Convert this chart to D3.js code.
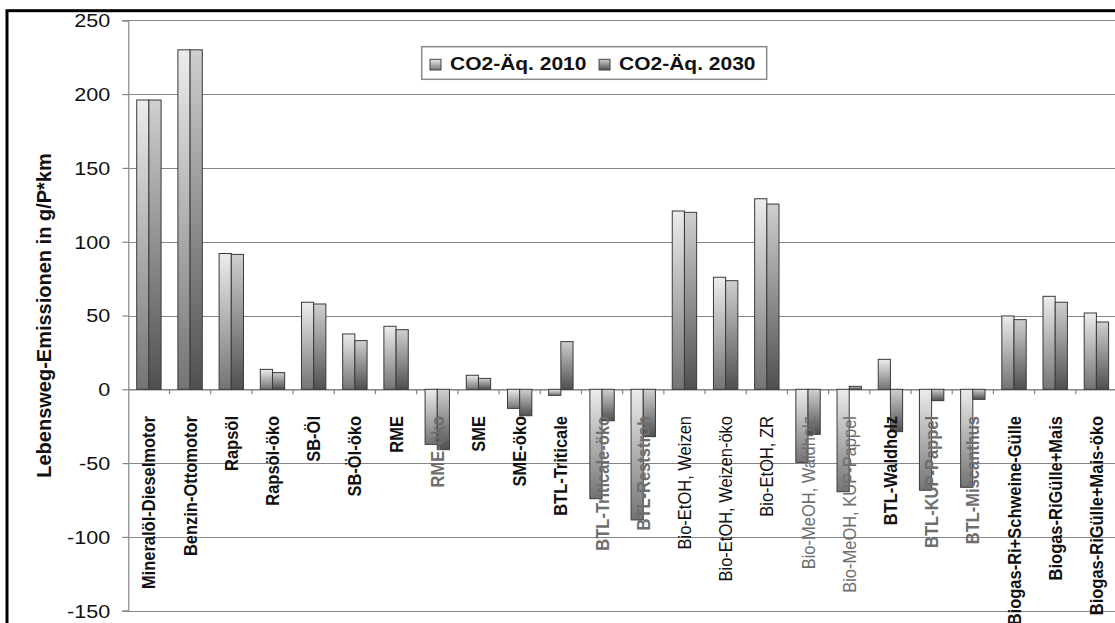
<!DOCTYPE html>
<html>
<head>
<meta charset="utf-8">
<script src="https://cdn.jsdelivr.net/npm/d3@7"></script>
<style>
  html, body { margin: 0; padding: 0; background: #fff; }
  svg { display: block; font-family: "Liberation Sans", Arial, sans-serif; }
</style>
</head>
<body>
<svg id="chart" width="1115" height="623"></svg>
<script>
// Life-cycle greenhouse gas emissions per passenger-km, 2010 vs 2030
const categories = [
  "Mineralöl-Dieselmotor", "Benzin-Ottomotor", "Rapsöl", "Rapsöl-öko", "SB-Öl", "SB-Öl-öko",
  "RME", "RME-öko", "SME", "SME-öko", "BTL-Triticale", "BTL-Triticale-öko", "BTL-Reststroh",
  "Bio-EtOH, Weizen", "Bio-EtOH, Weizen-öko", "Bio-EtOH, ZR", "Bio-MeOH, Waldholz",
  "Bio-MeOH, KUP-Pappel", "BTL-Waldholz", "BTL-KUP-Pappel", "BTL-Miscanthus",
  "Biogas-Ri+Schweine-Gülle", "Biogas-RiGülle+Mais", "Biogas-RiGülle+Mais-öko"
];
const co2eq2010 = [196, 230, 92, 13.5, 59, 37.5, 42.7, -37.3, 9.5, -12.9, -4.1, -74.1, -88.5,
                   120.8, 75.9, 129.1, -49.5, -69.4, 20.3, -68.4, -66.4, 49.7, 63, 51.7];
const co2eq2030 = [196, 230, 91.4, 11.3, 57.8, 33, 40.4, -40.9, 7.4, -17.9, 32.3, -21.3, -32.1,
                   119.9, 73.6, 125.5, -30.5, 2, -28.7, -7.7, -6.8, 47.2, 59, 45.6];
const seriesNames = ["CO2-Äq. 2010", "CO2-Äq. 2030"];
const yTicks = [-150, -100, -50, 0, 50, 100, 150, 200, 250];
const yTitle = "Lebensweg-Emissionen in g/P*km";

const svg = d3.select("#chart");
const W = 1115, H = 623;
const plot = { left: 128.3, right: 1117, top: 20.3, bottom: 610.7 };
const textStretch = 1.2;   // horizontal glyph widening of the chart text

const x = d3.scaleBand().domain(categories).range([plot.left, plot.right]).padding(0);
const bw = x.bandwidth();
const xs = d3.scaleBand().domain(seriesNames).range([bw * 0.204, bw * 0.796]).padding(0);
const y = d3.scaleLinear().domain([-150, 250]).range([plot.bottom, plot.top]);

// gradients for the two series
const defs = svg.append("defs");
const grads = [
  { id: "g2010", top: "#ececec", bottom: "#747474" },
  { id: "g2030", top: "#cfcfcf", bottom: "#505050" }
];
grads.forEach(g => {
  const lg = defs.append("linearGradient").attr("id", g.id)
    .attr("x1", 0).attr("y1", 0).attr("x2", 0).attr("y2", 1);
  lg.append("stop").attr("offset", "0%").attr("stop-color", g.top);
  lg.append("stop").attr("offset", "100%").attr("stop-color", g.bottom);
});

svg.append("rect").attr("width", W).attr("height", H).attr("fill", "#fff");

// gridlines
svg.append("g").selectAll("line").data(yTicks).join("line")
  .attr("x1", plot.left).attr("x2", W + 20)
  .attr("y1", d => Math.round(y(d)) + 0.5).attr("y2", d => Math.round(y(d)) + 0.5)
  .attr("stroke", "#858585").attr("stroke-width", 1.2);

// y axis
const yAxis = svg.append("g")
  .attr("transform", `translate(${plot.left},0)`)
  .call(d3.axisLeft(y).tickValues(yTicks).tickSize(6).tickPadding(0).tickFormat(d => String(d)));
yAxis.select(".domain").attr("stroke", "#858585").attr("stroke-width", 1.2);
yAxis.selectAll(".tick line").attr("stroke", "#858585").attr("stroke-width", 1.2);
yAxis.selectAll(".tick text")
  .attr("x", 0).attr("dy", "0.35em")
  .attr("transform", `translate(-18,0) scale(${textStretch},1)`)
  .attr("font-size", 18).attr("fill", "#111").attr("text-anchor", "end")
  .attr("font-family", '"Liberation Sans", Arial, sans-serif');

// category axis along zero with boundary ticks
const y0 = y(0);
const xAxis = svg.append("g").attr("transform", `translate(0,${y0})`)
  .call(d3.axisBottom(x).tickSize(0).tickFormat(""));
xAxis.select(".domain").attr("stroke", "#858585").attr("stroke-width", 1.2);
svg.append("g").selectAll("line").data(categories.slice(1)).join("line")
  .attr("x1", d => x(d)).attr("x2", d => x(d))
  .attr("y1", y0).attr("y2", y0 + 5)
  .attr("stroke", "#858585").attr("stroke-width", 1.2);

// bars
const rows = categories.map((c, i) => ({ c, v: [co2eq2010[i], co2eq2030[i]] }));
const groups = svg.append("g").selectAll("g").data(rows).join("g")
  .attr("transform", d => `translate(${x(d.c)},0)`);
groups.selectAll("rect").data(d => d.v.map((v, k) => ({ s: seriesNames[k], v, k }))).join("rect")
  .attr("x", d => xs(d.s))
  .attr("width", xs.bandwidth())
  .attr("y", d => Math.min(y(d.v), y0))
  .attr("height", d => Math.abs(y(d.v) - y0))
  .attr("fill", d => `url(#${grads[d.k].id})`)
  .attr("stroke", "#3a3a3a").attr("stroke-width", 1);

// category labels, rotated
const labelEnd = 416;
svg.append("g").selectAll("text").data(rows).join("text")
  .attr("transform", d => `translate(${x(d.c) + bw / 2},${labelEnd}) rotate(-90) scale(1,1.1)`)
  .attr("dy", "0.36em")
  .attr("text-anchor", "end")
  .attr("font-size", 16.5)
  .attr("font-weight", d => d.c.startsWith("Bio-") ? "normal" : "bold")
  .attr("fill", d => d.v[0] < -30 ? "#6e6e6e" : "#111")
  .text(d => d.c);

// y axis title
svg.append("text")
  .attr("transform", `translate(44,${(plot.top + plot.bottom) / 2}) rotate(-90)`)
  .attr("dy", "0.35em")
  .attr("text-anchor", "middle")
  .attr("font-size", 20).attr("font-weight", "bold").attr("fill", "#111")
  .text(yTitle);

// legend
const lg = svg.append("g");
lg.append("rect").attr("x", 421.7).attr("y", 46.7).attr("width", 345).attr("height", 32.6)
  .attr("fill", "#fff").attr("stroke", "#8a8a8a").attr("stroke-width", 1.5);
let lx = 430;
seriesNames.forEach((name, k) => {
  lg.append("rect").attr("x", lx).attr("y", 59.3).attr("width", 11).attr("height", 10.7)
    .attr("fill", `url(#${grads[k].id})`).attr("stroke", "#444").attr("stroke-width", 1);
  const t = lg.append("text")
    .attr("transform", `translate(${lx + 20},70) scale(${textStretch},1)`)
    .attr("font-size", 17.5).attr("font-weight", "bold").attr("fill", "#111")
    .text(name);
  lx += 20 + t.node().getComputedTextLength() * textStretch + 12.6;
});

// outer frame
svg.append("rect").attr("x", 7).attr("y", 10.7).attr("width", W + 50).attr("height", H + 50)
  .attr("fill", "none").attr("stroke", "#000").attr("stroke-width", 3);
</script>
</body>
</html>
